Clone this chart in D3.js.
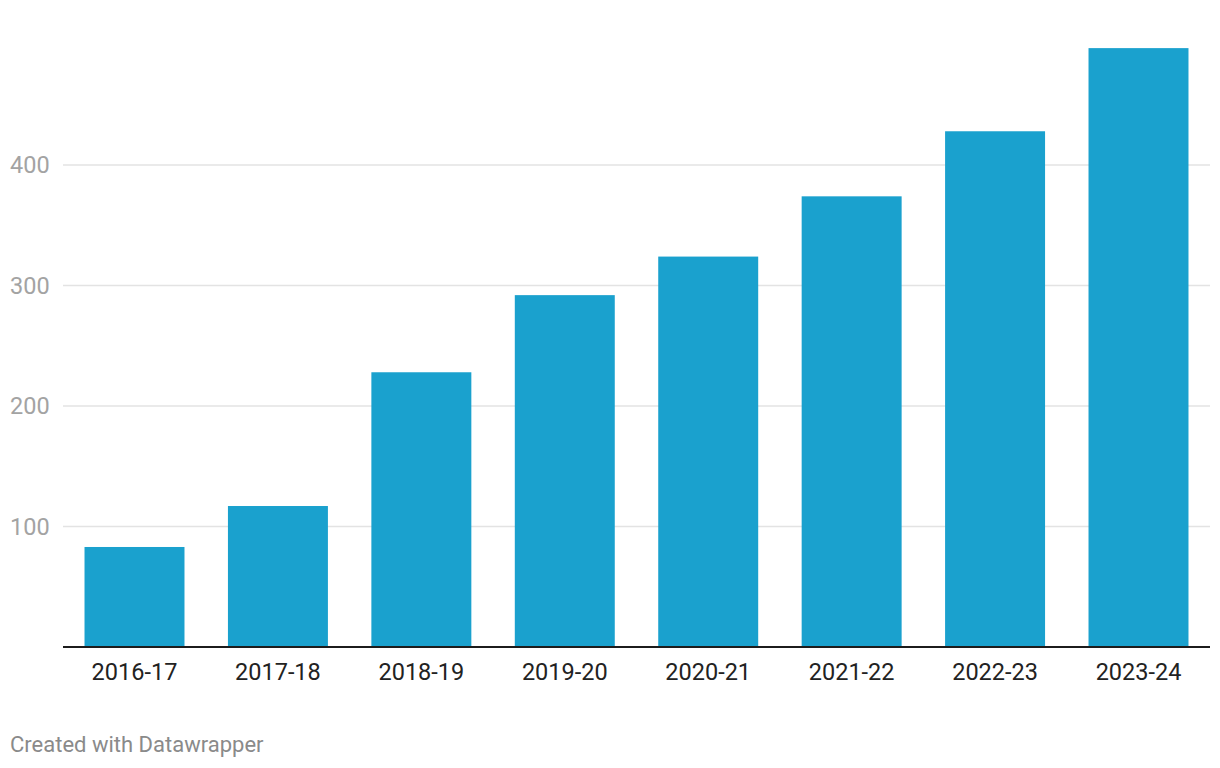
<!DOCTYPE html>
<html>
<head>
<meta charset="utf-8">
<script src="https://cdn.jsdelivr.net/npm/d3@7"></script>
<style>
  body { margin: 0; background: #fff; }
  text { font-family: Roboto, sans-serif; }
</style>
</head>
<body>
<div class="chart"></div>
<script>
// Data
const years = ["2016-17", "2017-18", "2018-19", "2019-20", "2020-21", "2021-22", "2022-23", "2023-24"];
const values = [83, 117, 228, 292, 324, 374, 428, 497];
const yTicks = [100, 200, 300, 400];

const width = 1220, height = 768;

const svg = d3.select(".chart")
    .append("svg")
    .attr("width", width)
    .attr("height", height);

// Scales
const xScale = d3.scaleBand()
    .domain(years)
    .range([63, 1210])
    .paddingInner(0.303)
    .paddingOuter(0.15);

const yScale = d3.scaleLinear()
    .domain([0, 400])
    .range([647, 165]);

// Gridlines and y labels
const grid = svg.append("g");
grid.selectAll("line")
    .data(yTicks)
    .enter()
    .append("line")
    .attr("x1", 63)
    .attr("x2", 1210)
    .attr("y1", d => yScale(d))
    .attr("y2", d => yScale(d))
    .attr("stroke", "#e3e3e3")
    .attr("stroke-width", 1.5);

grid.selectAll("text")
    .data(yTicks)
    .enter()
    .append("text")
    .attr("x", 10)
    .attr("y", d => yScale(d))
    .attr("dy", "0.35em")
    .attr("fill", "#a3a3a3")
    .style("font-size", "23.5px")
    .text(d => d);

// Bars
svg.selectAll(".bar")
    .data(values)
    .enter()
    .append("rect")
    .attr("class", "bar")
    .attr("x", (d, i) => xScale(years[i]))
    .attr("width", xScale.bandwidth())
    .attr("y", d => yScale(d))
    .attr("height", d => yScale(0) - yScale(d))
    .attr("fill", "#1aa1ce");

// Baseline
svg.append("line")
    .attr("x1", 63)
    .attr("x2", 1210)
    .attr("y1", yScale(0))
    .attr("y2", yScale(0))
    .attr("stroke", "#1c1c1c")
    .attr("stroke-width", 2);

// x-axis labels
svg.selectAll(".x-label")
    .data(years)
    .enter()
    .append("text")
    .attr("class", "x-label")
    .attr("x", d => xScale(d) + xScale.bandwidth() / 2)
    .attr("y", 680)
    .attr("text-anchor", "middle")
    .attr("fill", "#222")
    .style("font-size", "23.5px")
    .text(d => d);

// Credit line
svg.append("text")
    .attr("x", 10)
    .attr("y", 752)
    .attr("fill", "#8a8a8a")
    .style("font-size", "22px")
    .text("Created with Datawrapper");
</script>
</body>
</html>
